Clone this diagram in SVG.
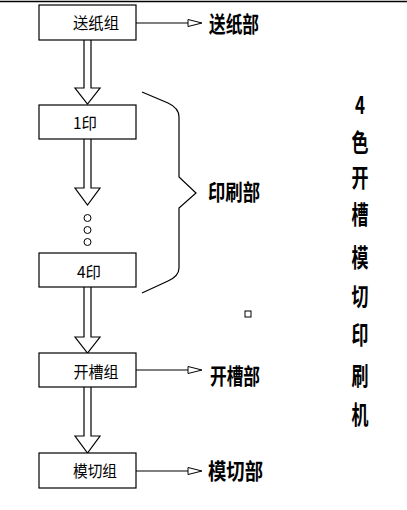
<svg xmlns="http://www.w3.org/2000/svg" width="407" height="510" viewBox="0 0 407 510">
<defs>
<style>
.box{fill:#fff;stroke:#000;stroke-width:1.2}
.ln{fill:none;stroke:#000;stroke-width:1.2}
.ah{fill:#fff;stroke:#000;stroke-width:1}
.bt{font-family:"Noto Sans CJK SC","Noto Sans CJK JP",sans-serif;font-size:16px;fill:#000;text-anchor:middle}
.lb{font-family:"Noto Sans CJK SC","Noto Sans CJK JP",sans-serif;font-size:22px;font-weight:bold;fill:#000}
.vt{font-family:"Noto Sans CJK SC","Noto Sans CJK JP",sans-serif;font-size:25px;font-weight:bold;fill:#000;text-anchor:middle}
</style>
</defs>
<rect width="407" height="510" fill="#fff"/>
<line x1="0" y1="1.5" x2="407" y2="1.5" stroke="#000" stroke-width="1.5"/>

<g id="connectors">
<path class="ln" d="M84,40 V88 H75 L87.5,104 L100,88 H91 V40"/>
<path class="ln" d="M84,139 V188 H75 L87.5,205 L100,188 H91 V139"/>
<path class="ln" d="M84,287 V337 H75 L87.5,353 L100,337 H91 V287"/>
<path class="ln" d="M84,387 V436 H75 L87.5,453 L100,436 H91 V387"/>
<line class="ln" x1="136" y1="23" x2="188" y2="23"/>
<polygon class="ah" points="188,19.5 202,23 188,26.5"/>
<line class="ln" x1="136" y1="370" x2="188" y2="370"/>
<polygon class="ah" points="188,366.5 202,370 188,373.5"/>
<line class="ln" x1="136" y1="471" x2="188" y2="471"/>
<polygon class="ah" points="188,467.5 202,471 188,474.5"/>
<path class="ln" d="M142,92 L168,103 Q179,108 179,117 V177 L196,193 L179,208 V268 Q179,276 168,281 L142,293"/>
</g>

<g id="dots">
<circle class="ah" cx="87.5" cy="218" r="3.5"/>
<circle class="ah" cx="87.5" cy="230" r="3.5"/>
<circle class="ah" cx="87.5" cy="242" r="3.5"/>
</g>

<g id="n1"><rect class="box" x="39" y="5" width="97" height="35"/><text class="bt" x="96" y="29" textLength="46" lengthAdjust="spacingAndGlyphs">送纸组</text></g>
<g id="n2"><rect class="box" x="39" y="105" width="97" height="34"/><text class="bt" x="85" y="129" textLength="24" lengthAdjust="spacingAndGlyphs">1印</text></g>
<g id="n3"><rect class="box" x="39" y="253" width="97" height="34"/><text class="bt" x="89" y="278" textLength="24" lengthAdjust="spacingAndGlyphs">4印</text></g>
<g id="n4"><rect class="box" x="39" y="353" width="97" height="34"/><text class="bt" x="96" y="378" textLength="45" lengthAdjust="spacingAndGlyphs">开槽组</text></g>
<g id="n5"><rect class="box" x="39" y="453" width="97" height="35"/><text class="bt" x="95" y="477" textLength="44" lengthAdjust="spacingAndGlyphs">模切组</text></g>

<g id="l1"><text class="lb" x="209" y="32" textLength="50" lengthAdjust="spacingAndGlyphs">送纸部</text></g>
<g id="l2"><text class="lb" x="208" y="200" textLength="52" lengthAdjust="spacingAndGlyphs">印刷部</text></g>
<g id="l3"><text class="lb" x="210" y="384" textLength="50" lengthAdjust="spacingAndGlyphs">开槽部</text></g>
<g id="l4"><text class="lb" x="208" y="479" textLength="55" lengthAdjust="spacingAndGlyphs">模切部</text></g>

<rect x="245" y="311" width="6" height="6" fill="none" stroke="#000" stroke-width="1"/>

<g id="title">
<g transform="translate(360,0) scale(0.68,1)">
<text class="vt" x="0" y="114">4</text>
<text class="vt" x="0" y="152">色</text>
<text class="vt" x="0" y="187">开</text>
<text class="vt" x="0" y="224">槽</text>
<text class="vt" x="0" y="267">模</text>
<text class="vt" x="0" y="306">切</text>
<text class="vt" x="0" y="344">印</text>
<text class="vt" x="0" y="385">刷</text>
<text class="vt" x="0" y="424">机</text>
</g>
</g>
</svg>
